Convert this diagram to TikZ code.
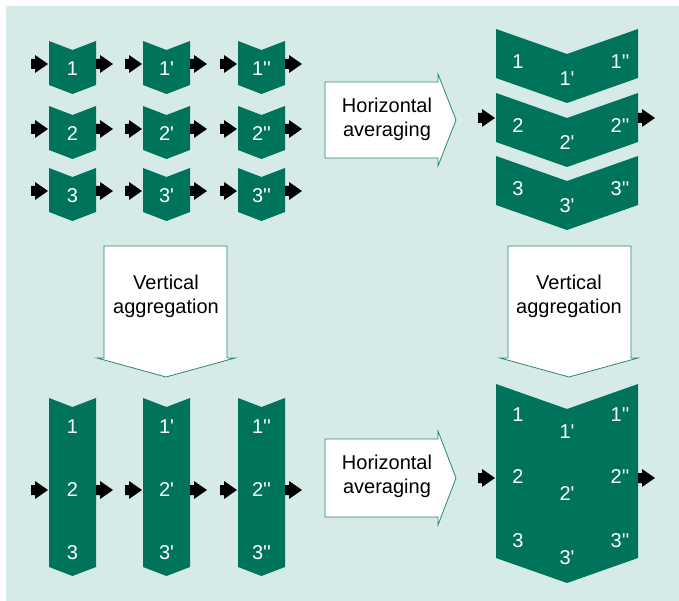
\documentclass[tikz,border=0pt]{standalone}
\usepackage{fontspec}
\setmainfont{Liberation Sans}
\usepackage{xcolor}
\definecolor{chev}{RGB}{0,116,90}
\definecolor{bgteal}{RGB}{214,235,231}
\definecolor{edge}{RGB}{40,135,115}
\newcommand\pr{\textquotesingle}
\newcommand\blk[2]{\fill[shift={({#1},{#2})}] (0,-5)--(4,-5)--(4,-9)--(17,0)--(4,9)--(4,5)--(0,5)--cycle;}
\begin{document}
\begin{tikzpicture}[x=1pt,y=-1pt,
lab/.style={text=white,font=\fontsize{20}{24}\selectfont,inner sep=0pt},
note/.style={font=\fontsize{20}{24}\selectfont,align=center,inner sep=0pt},
wbox/.style={fill=white,draw=edge,line width=.8pt}]
\useasboundingbox (0,0) rectangle (679,601);
\fill[bgteal] (6,6) rectangle (679,601);
% small blocks, top left
\foreach \x/\p in {49/{},143/\pr,238/\pr\pr}{
\foreach \y/\n in {41/1,106/2,168/3}{
\fill[chev] (\x,\y)--++(23.5,9)--++(23.5,-9)--++(0,44)--++(-23.5,9)--++(-23.5,-9)--cycle;
\node[lab] (s\n\x) at ({\x+23.5},{\y+28}) {\n\p};
\blk{\x-18}{\y+23}
\blk{\x+47}{\y+23}
}}
% tall blocks, bottom left
\foreach \x/\p in {49/{},143/\pr,238/\pr\pr}{
\fill[chev] (\x,398)--++(23.5,9)--++(23.5,-9)--++(0,169)--++(-23.5,9)--++(-23.5,-9)--cycle;
\foreach \y/\n in {427/1,490/2,553/3}
\node[lab] (t\n\x) at ({\x+23.5},\y) {\n\p};
\blk{\x-18}{490}
\blk{\x+47}{490}
}
% wide blocks, top right
\foreach \y/\n in {29/1,93/2,156/3}{
\fill[chev] (496,\y)--++(71,25)--++(71,-25)--++(0,49)--++(-71,25)--++(-71,-25)--cycle;
\node[lab] (h\n a) at (518,{\y+33}) {\n};
\node[lab] (h\n b) at (567,{\y+50}) {\n\pr};
\node[lab] (h\n c) at (620,{\y+33}) {\n\pr\pr};
}
\blk{478}{118}
\blk{638}{118}
% big block, bottom right
\fill[chev] (496,384)--++(71,25)--++(71,-25)--++(0,174)--++(-71,25)--++(-71,-25)--cycle;
\foreach \y/\n in {415/1,477/2,541/3}{
\node[lab] (b\n a) at (518,\y) {\n};
\node[lab] (b\n b) at (567,{\y+17}) {\n\pr};
\node[lab] (b\n c) at (620,\y) {\n\pr\pr};
}
\blk{478}{478}
\blk{638}{478}
% white arrows
\draw[wbox] (325,82)--(438,82)--(438,74)--(456,120)--(438,166)--(438,158)--(325,158)--cycle;
\node[note] (hav1) at (387,119) {Horizontal\\averaging};
\draw[wbox] (325,439)--(438,439)--(438,431)--(456,478)--(438,525)--(438,517)--(325,517)--cycle;
\node[note] (hav2) at (387,476) {Horizontal\\averaging};
\draw[wbox] (104,246)--(227,246)--(227,358)--(235,358)--(166,377)--(97,358)--(104,358)--cycle;
\node[note] (vag1) at (166,296) {Vertical\\aggregation};
\draw[wbox] (508,246)--(631,246)--(631,358)--(638,358)--(569,377)--(500,358)--(508,358)--cycle;
\node[note] (vag2) at (569,296) {Vertical\\aggregation};
\end{tikzpicture}
\end{document}
